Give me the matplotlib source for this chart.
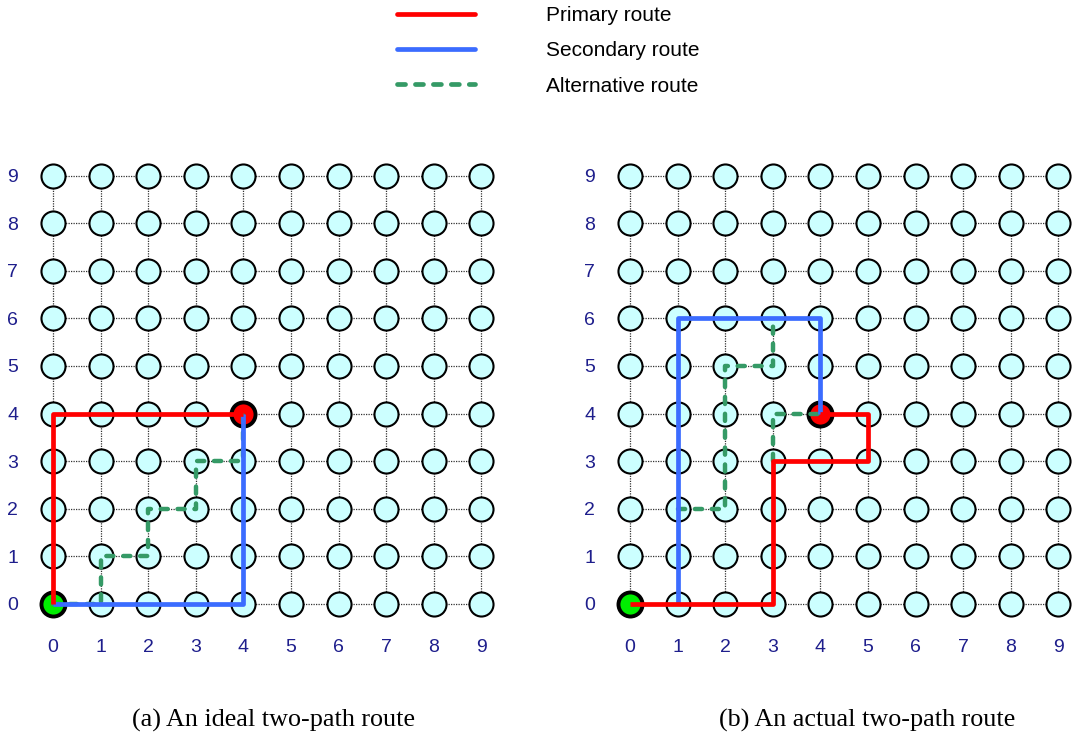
import matplotlib
matplotlib.use("agg")
import matplotlib.pyplot as plt
import numpy as np

# grid of nodes (same for both panels)
node_ids = list(range(10))
tick_labels = [str(i) for i in node_ids]

# panel (a): ideal two-path route
primary_a_x = [0, 0, 4]
primary_a_y = [0, 4, 4]
secondary_a_x = [0, 4, 4]
secondary_a_y = [0, 0, 4]
alt_a_x = [0, 1, 1, 2, 2, 3, 3, 4, 4]
alt_a_y = [0, 0, 1, 1, 2, 2, 3, 3, 4]

# panel (b): actual two-path route
primary_b_x = [0, 3, 3, 5, 5, 4]
primary_b_y = [0, 0, 3, 3, 4, 4]
secondary_b_x = [1, 1, 4, 4]
secondary_b_y = [0, 6, 6, 4]
alt_b1_x = [1, 2, 2, 3, 3]
alt_b1_y = [2, 2, 5, 5, 6]
alt_b2_x = [3, 3, 4]
alt_b2_y = [3, 4, 4]

source_node = (0, 0)
dest_node = (4, 4)

captions = ["(a) An ideal two-path route", "(b) An actual two-path route"]
legend_labels = ["Primary route", "Secondary route", "Alternative route"]

RED = "#ff0000"
BLUE = "#3b6cff"
GREEN = "#359a66"
NAVY = "#1e1e8c"

plt.rcParams["font.family"] = ["Liberation Sans", "DejaVu Sans"]

W, H = 1075, 747
fig = plt.figure(figsize=(W / 100, H / 100), dpi=100)


def px_axes(x0, y0, spacing):
    # x0, y0: pixel position of node (0,0); returns axes covering -0.5..9.5
    left = x0 - 0.5 * spacing
    bottom = H - (y0 + 0.5 * spacing)
    size = 10 * spacing
    return fig.add_axes([left / W, bottom / H, size / W, size / H])


def draw_panel(ax, primary, secondary, alts):
    n = len(node_ids)
    # dotted grid links between neighbouring nodes
    for i in node_ids:
        ax.plot([node_ids[0], node_ids[-1]], [i, i], ls=(0, (1, 1)),
                color="#333333", lw=0.9, zorder=1)
        ax.plot([i, i], [node_ids[0], node_ids[-1]], ls=(0, (1, 1)),
                color="#333333", lw=0.9, zorder=1)
    gx, gy = np.meshgrid(node_ids, node_ids)
    ax.scatter(gx.ravel(), gy.ravel(), s=300, facecolor="#ccffff",
               edgecolor="black", linewidth=1.5, zorder=2)
    ax.scatter([source_node[0]], [source_node[1]], s=300, facecolor="#00ee00",
               edgecolor="black", linewidth=2.8, zorder=3)
    ax.scatter([dest_node[0]], [dest_node[1]], s=300, facecolor=RED,
               edgecolor="black", linewidth=2.8, zorder=3)

    for xs, ys in alts:
        ax.plot(xs, ys, color=GREEN, lw=3.2, dashes=(1.6, 2.2),
                dash_capstyle="round", zorder=4)
    ax.plot(secondary[0], secondary[1], color=BLUE, lw=3.4, zorder=5,
            solid_capstyle="butt")
    ax.plot(primary[0], primary[1], color=RED, lw=3.4, zorder=6,
            solid_capstyle="butt")

    ax.set_xlim(-0.5, n - 0.5)
    ax.set_ylim(-0.5, n - 0.5)
    ax.set_xticks(node_ids)
    ax.set_yticks(node_ids)
    ax.set_xticklabels(tick_labels)
    ax.set_yticklabels(tick_labels)
    ax.tick_params(length=0, pad=8, labelsize=14, labelcolor=NAVY)
    for sp in ax.spines.values():
        sp.set_visible(False)


ax_a = px_axes(53, 604, 47.6)
draw_panel(ax_a, (primary_a_x, primary_a_y), (secondary_a_x, secondary_a_y),
           [(alt_a_x, alt_a_y)])

ax_b = px_axes(630, 604, 47.6)
draw_panel(ax_b, (primary_b_x, primary_b_y), (secondary_b_x, secondary_b_y),
           [(alt_b1_x, alt_b1_y), (alt_b2_x, alt_b2_y)])

# legend
handles = [
    plt.Line2D([], [], color=RED, lw=3.4, solid_capstyle="round"),
    plt.Line2D([], [], color=BLUE, lw=3.4, solid_capstyle="round"),
    plt.Line2D([], [], color=GREEN, lw=3.4, dashes=(1.7, 2.1),
               dash_capstyle="round"),
]
fig.legend(handles, legend_labels, loc="upper left",
           bbox_to_anchor=(397 / W, 1 - 6 / H), frameon=False,
           fontsize=15, handlelength=3.75, handletextpad=3.4,
           labelspacing=0.78, borderpad=0, borderaxespad=0)

# captions
fig.text(273 / W, 1 - 720 / H, captions[0], ha="center", va="center",
         fontsize=18.8, family="Liberation Serif")
fig.text(867 / W, 1 - 720 / H, captions[1], ha="center", va="center",
         fontsize=18.8, family="Liberation Serif")

fig.savefig("out.png", dpi=100)
